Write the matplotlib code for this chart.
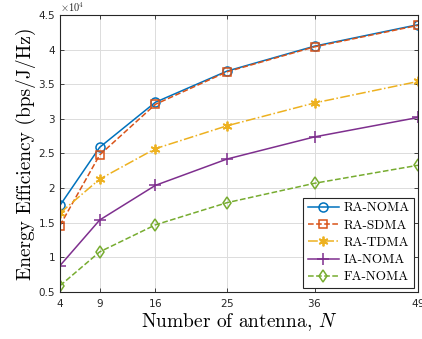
import numpy as np
import matplotlib
matplotlib.use("Agg")
import matplotlib.pyplot as plt
from matplotlib.ticker import FuncFormatter

plt.rcParams['mathtext.fontset'] = 'cm'
plt.rcParams['axes.formatter.use_mathtext'] = True

# nombre d'antennes
N = [4, 9, 16, 25, 36, 49]
# efficacite energetique, en unites de 1e4 bps/J/Hz
ra_noma = [1.75, 2.59, 3.24, 3.69, 4.05, 4.36]
ra_sdma = [1.46, 2.48, 3.21, 3.68, 4.04, 4.35]
ra_tdma = [1.64, 2.13, 2.57, 2.90, 3.23, 3.54]
ia_noma = [0.88, 1.54, 2.04, 2.42, 2.74, 3.02]
fa_noma = [0.59, 1.08, 1.47, 1.79, 2.07, 2.33]

fig = plt.figure(figsize=(4.22, 3.39), dpi=100)
ax = fig.add_axes([0.142, 0.1386, 0.8485, 0.8172])

ax.plot(N, ra_noma, '-o', color='#0072BD', lw=1.1, ms=6.5, mfc='none', mew=1.1, label='RA-NOMA')
ax.plot(N, ra_sdma, '--s', color='#D95319', lw=1.1, ms=5.5, mfc='none', mew=1.1, label='RA-SDMA')
ax.plot(N, ra_tdma, '-.', marker=(6, 2, 0), color='#EDB120', lw=1.1, ms=7, mew=1.3, label='RA-TDMA')
ax.plot(N, ia_noma, '-+', color='#7E2F8E', lw=1.1, ms=8, mew=1.1, label='IA-NOMA')
ax.plot(N, fa_noma, '--d', color='#77AC30', lw=1.1, ms=6.5, mfc='none', mew=1.1, label='FA-NOMA')

ax.set_xlim(4, 49)
ax.set_ylim(0.5, 4.5)
ax.set_xticks(N)
ax.set_yticks(np.arange(0.5, 4.51, 0.5))
ax.yaxis.set_major_formatter(FuncFormatter(lambda v, p: '%g' % v))
ax.tick_params(direction='in', top=True, right=True, length=3, width=0.6,
               labelsize=7.5, colors='#262626')
ax.grid(True, color='#dcdcdc', lw=0.7)
ax.set_axisbelow(True)
for s in ax.spines.values():
    s.set_color('#262626')
    s.set_linewidth(0.8)

ax.text(0.0, 1.005, r'$\times 10^4$', transform=ax.transAxes, fontsize=7.5,
        color='#262626', ha='left', va='bottom', family='DejaVu Sans')

ax.set_xlabel(r'Number of antenna, $N$', family='cmr10', fontsize=14, labelpad=2)
ax.set_ylabel('Energy Efficiency (bps/J/Hz)', family='cmr10', fontsize=14, labelpad=2)

leg = ax.legend(loc='lower right', prop={'family': 'cmr10', 'size': 9.5},
                fancybox=False, edgecolor='#262626', framealpha=1,
                handlelength=2.4, borderaxespad=0.3, labelspacing=0.38,
                handletextpad=0.3, borderpad=0.35)
leg.get_frame().set_linewidth(0.8)

fig.savefig('out.png', dpi=100)
